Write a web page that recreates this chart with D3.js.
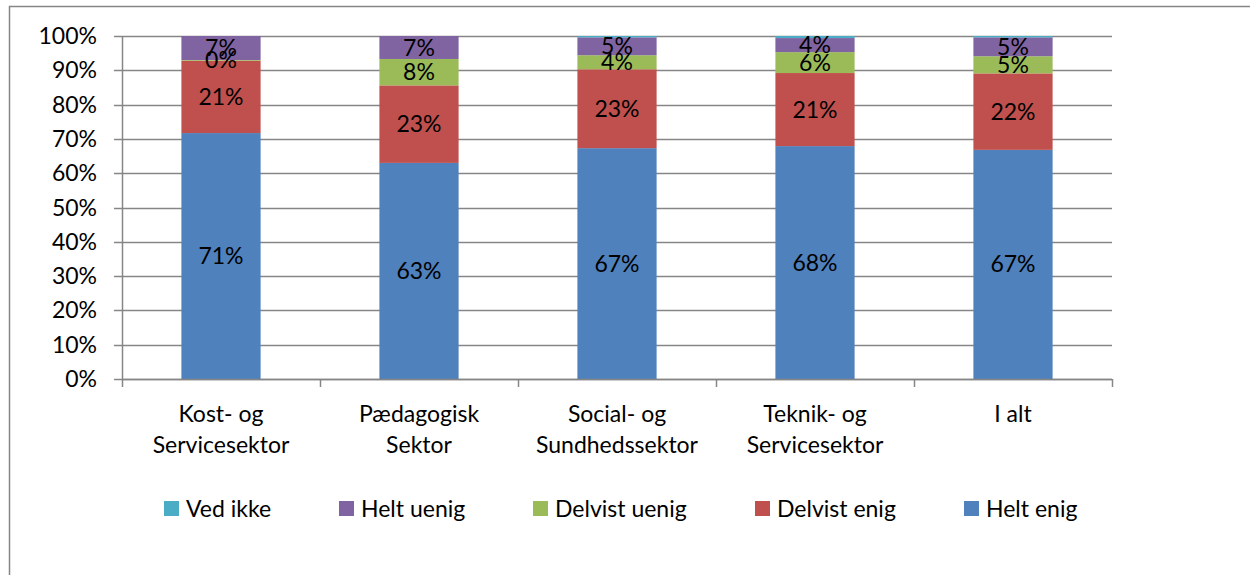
<!DOCTYPE html>
<html>
<head>
<meta charset="utf-8">
<script src="https://cdn.jsdelivr.net/npm/d3@7"></script>
<style>
  body { margin: 0; background: #fff; }
  svg { font-family: Lato, "Open Sans", sans-serif; }
</style>
</head>
<body>
<svg id="chart" width="1250" height="575"></svg>
<script>
const categories = [
    ["Kost- og", "Servicesektor"],
    ["Pædagogisk", "Sektor"],
    ["Social- og", "Sundhedssektor"],
    ["Teknik- og", "Servicesektor"],
    ["I alt"]
];

// stacked bottom to top
const seriesNames = ["Helt enig", "Delvist enig", "Delvist uenig", "Helt uenig", "Ved ikke"];
const heltEnig     = [71.7, 63.0, 67.3, 67.9, 66.8];
const delvistEnig  = [21.1, 22.6, 23.0, 21.3, 22.3];
const delvistUenig = [0.2, 7.7, 4.1, 6.1, 5.0];
const heltUenig    = [7.0, 6.7, 5.2, 4.1, 5.5];
const vedIkke      = [0.0, 0.0, 0.4, 0.6, 0.4];
const labels = [
    ["71%", "63%", "67%", "68%", "67%"],
    ["21%", "23%", "23%", "21%", "22%"],
    ["0%", "8%", "4%", "6%", "5%"],
    ["7%", "7%", "5%", "4%", "5%"],
    null
];
const colors = ["#4f81bd", "#c0504d", "#9bbb59", "#8064a2", "#4bacc6"];
const yTicks = [0, 10, 20, 30, 40, 50, 60, 70, 80, 90, 100];
const legendOrder = ["Ved ikke", "Helt uenig", "Delvist uenig", "Delvist enig", "Helt enig"];

const fontSize = 23;
const svg = d3.select("#chart");

// chart frame
svg.append("rect")
    .attr("x", 9.5)
    .attr("y", 6.5)
    .attr("width", 1300)
    .attr("height", 700)
    .attr("fill", "none")
    .attr("stroke", "#868686")
    .attr("stroke-width", 1.5);

const plotLeft = 122, plotRight = 1112, plotTop = 36, plotBottom = 379;

const x = d3.scaleBand()
    .domain(d3.range(categories.length))
    .range([plotLeft, plotRight])
    .paddingInner(0.6)
    .paddingOuter(0.3);

const xOuter = d3.scaleBand()
    .domain(d3.range(categories.length))
    .range([plotLeft, plotRight]);

const y = d3.scaleLinear().domain([0, 100]).range([plotBottom, plotTop]);

// gridlines
svg.append("g")
    .selectAll("line")
    .data(yTicks)
    .join("line")
    .attr("x1", plotLeft - 8)
    .attr("x2", plotRight)
    .attr("y1", d => Math.round(y(d)) + 0.5)
    .attr("y2", d => Math.round(y(d)) + 0.5)
    .attr("stroke", "#868686")
    .attr("stroke-width", 1.5);

svg.append("g")
    .selectAll("text")
    .data(yTicks)
    .join("text")
    .attr("x", 97)
    .attr("y", d => y(d))
    .attr("dy", "0.35em")
    .attr("text-anchor", "end")
    .attr("font-size", fontSize)
    .text(d => d + "%");

const stackData = categories.map((c, i) => ({
    "Helt enig": heltEnig[i],
    "Delvist enig": delvistEnig[i],
    "Delvist uenig": delvistUenig[i],
    "Helt uenig": heltUenig[i],
    "Ved ikke": vedIkke[i]
}));
const stacked = d3.stack().keys(seriesNames)(stackData);

const layers = svg.append("g")
    .selectAll("g")
    .data(stacked)
    .join("g")
    .attr("fill", (d, i) => colors[i]);

layers.selectAll("rect")
    .data(d => d)
    .join("rect")
    .attr("x", (d, i) => x(i))
    .attr("width", x.bandwidth())
    .attr("y", d => y(d[1]))
    .attr("height", d => y(d[0]) - y(d[1]));

// value labels
stacked.forEach((layer, k) => {
    if (!labels[k]) return;
    svg.append("g")
        .selectAll("text")
        .data(layer)
        .join("text")
        .attr("x", (d, i) => x(i) + x.bandwidth() / 2)
        .attr("y", d => y((d[0] + d[1]) / 2))
        .attr("dy", "0.35em")
        .attr("text-anchor", "middle")
        .attr("font-size", fontSize)
        .attr("fill", "#000")
        .text((d, i) => labels[k][i]);
});

// x axis
svg.append("line")
    .attr("x1", plotLeft)
    .attr("x2", plotRight)
    .attr("y1", plotBottom + 0.5)
    .attr("y2", plotBottom + 0.5)
    .attr("stroke", "#868686")
    .attr("stroke-width", 1.5);

svg.append("line")
    .attr("x1", plotLeft + 0.5)
    .attr("x2", plotLeft + 0.5)
    .attr("y1", plotTop)
    .attr("y2", plotBottom + 8)
    .attr("stroke", "#868686")
    .attr("stroke-width", 1.5);

svg.append("g")
    .selectAll("line")
    .data(d3.range(1, categories.length + 1))
    .join("line")
    .attr("x1", d => Math.round(plotLeft + d * xOuter.step()) + 0.5)
    .attr("x2", d => Math.round(plotLeft + d * xOuter.step()) + 0.5)
    .attr("y1", plotBottom)
    .attr("y2", plotBottom + 8)
    .attr("stroke", "#868686")
    .attr("stroke-width", 1.5);

const xLabels = svg.append("g")
    .selectAll("text")
    .data(categories)
    .join("text")
    .attr("x", (d, i) => xOuter(i) + xOuter.bandwidth() / 2)
    .attr("y", 422)
    .attr("text-anchor", "middle")
    .attr("font-size", fontSize);

xLabels.selectAll("tspan")
    .data(d => d)
    .join("tspan")
    .attr("x", function () { return d3.select(this.parentNode).attr("x"); })
    .attr("dy", (d, j) => j === 0 ? 0 : 31)
    .text(d => d);

// legend
const legendX = [164, 339, 533, 755, 964];
const legend = svg.append("g")
    .selectAll("g")
    .data(legendOrder)
    .join("g")
    .attr("transform", (d, i) => `translate(${legendX[i]},501)`);

legend.append("rect")
    .attr("width", 15)
    .attr("height", 15)
    .attr("fill", d => colors[seriesNames.indexOf(d)]);

legend.append("text")
    .attr("x", 22)
    .attr("y", 8)
    .attr("dy", "0.35em")
    .attr("font-size", fontSize)
    .text(d => d);
</script>
</body>
</html>
